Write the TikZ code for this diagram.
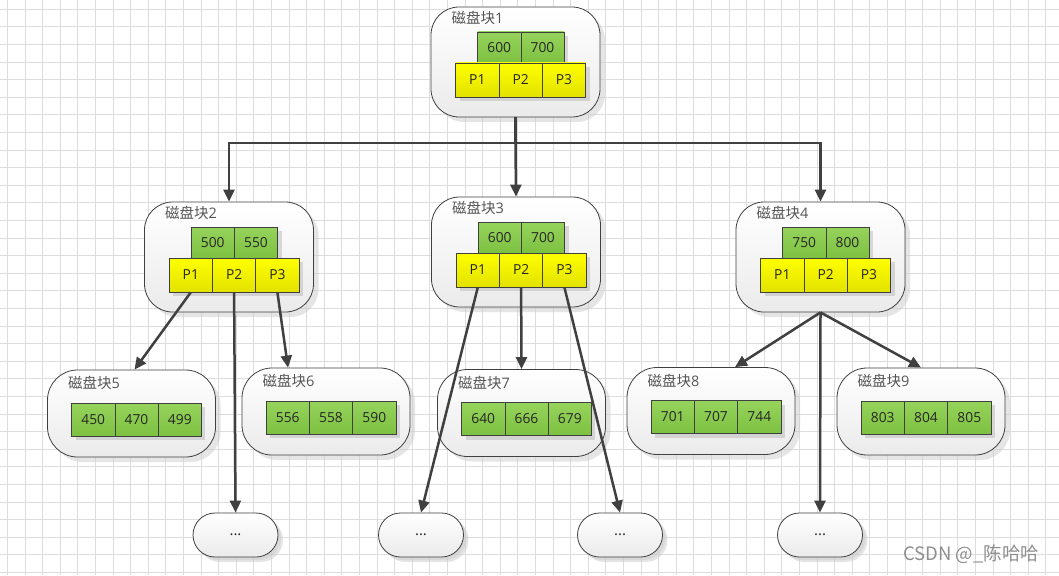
\documentclass[tikz,border=0pt]{standalone}
\usepackage{fontspec}
\setmainfont{Open Sans}
\newfontfamily\cjk{Noto Sans CJK SC}
\usetikzlibrary{arrows.meta,shadows,calc}
\definecolor{gridc}{HTML}{DDDDDD}
\definecolor{linec}{HTML}{404040}
\definecolor{gtop}{HTML}{96D35C}
\definecolor{gbot}{HTML}{7DC141}
\definecolor{ytop}{HTML}{FFFF00}
\definecolor{ybot}{HTML}{E2E200}
\definecolor{lblc}{HTML}{555555}
\definecolor{wmc}{HTML}{8E8E8E}
\tikzset{
  gridline/.style={draw=gridc, line width=0.9pt},
  blk/.style={draw=linec, line width=0.8pt, rounded corners=28pt, top color=white, bottom color=black!8,
    minimum width=169pt, minimum height=110pt, inner sep=0pt,
    drop shadow={shadow xshift=5pt, shadow yshift=-5pt, fill=black!20, opacity=0.5}},
  leafblk/.style={blk, minimum width=168pt, minimum height=87pt, rounded corners=30pt},
  dotbox/.style={blk, minimum width=85pt, minimum height=44pt, rounded corners=22pt,
    font=\fontsize{15}{15}\selectfont, text=black!85,
    drop shadow={shadow xshift=3pt, shadow yshift=-3pt, fill=black!20, opacity=0.5}},
  cellbase/.style={draw=linec, line width=0.6pt, inner sep=0pt, minimum width=43.3pt,
    font=\fontsize{13.8}{13.8}\selectfont, text=black!85,
    drop shadow={shadow xshift=4pt, shadow yshift=-4pt, fill=black!30, opacity=0.45}},
  gcell/.style={cellbase, top color=gtop, bottom color=gbot, minimum height=31pt},
  lgcell/.style={cellbase, top color=gtop, bottom color=gbot, minimum height=33pt},
  ycell/.style={cellbase, top color=ytop, bottom color=ybot, minimum height=34pt},
  lbl/.style={anchor=west, inner sep=0pt, text=lblc, font=\fontsize{14.5}{14.5}\selectfont},
  arr/.style={draw=linec, line width=2.5pt, -{Triangle[length=12pt, width=11pt]}},
  plain/.style={draw=linec, line width=2.5pt},
  wm/.style={anchor=west, inner sep=0pt, text=wmc, font=\cjk\fontsize{18.5}{18.5}\selectfont},
}
\newcommand\diskinner[6]{%
  \node[blk] (#1) at (#2,#3) {};
  \node[lbl] (#1t) at ($(#1.center)+(-64,-44)$) {{\cjk 磁盘块}#4};
  \node[gcell] (#1g1) at ($(#1.center)+(-16.3,-14.5)$) {#5};
  \node[gcell] (#1g2) at ($(#1.center)+(27.0,-14.5)$) {#6};
  \node[ycell] (#1p1) at ($(#1.center)+(-38.2,18)$) {P1};
  \node[ycell] (#1p2) at ($(#1.center)+(5.1,18)$) {P2};
  \node[ycell] (#1p3) at ($(#1.center)+(48.4,18)$) {P3};
}
\newcommand\diskleaf[7]{%
  \node[leafblk] (#1) at (#2,#3) {};
  \node[lbl] (#1t) at ($(#1.center)+(-63.5,-30.5)$) {{\cjk 磁盘块}#4};
  \node[lgcell] (#1c1) at ($(#1.center)+(-38.3,6)$) {#5};
  \node[lgcell] (#1c2) at ($(#1.center)+(5.0,6)$) {#6};
  \node[lgcell] (#1c3) at ($(#1.center)+(48.3,6)$) {#7};
}
\begin{document}
\begin{tikzpicture}[x=1pt,y=-1pt]
\useasboundingbox (0,0) rectangle (1059,575);
\fill[white] (0,0) rectangle (1059,575);
\foreach \i in {0,...,59} \draw[gridline] ({7.5+17.6*\i},0) -- ({7.5+17.6*\i},575);
\foreach \j in {0,...,32} \draw[gridline] (0,{9.3+17.6*\j}) -- (1059,{9.3+17.6*\j});

\diskinner{b1}{515.5}{62}{1}{600}{700}
\diskinner{b2}{229}{257}{2}{500}{550}
\diskinner{b3}{516}{252}{3}{600}{700}
\diskinner{b4}{820.5}{257}{4}{750}{800}

\diskleaf{b5}{131.5}{413.5}{5}{450}{470}{499}
\diskleaf{b6}{326}{411.5}{6}{556}{558}{590}
\diskleaf{b7}{521.5}{413}{7}{640}{666}{679}
\diskleaf{b8}{711}{411}{8}{701}{707}{744}
\diskleaf{b9}{921}{411.5}{9}{803}{804}{805}

\node[dotbox] (e1) at (235.5,535) {...};
\node[dotbox] (e2) at (421,535) {...};
\node[dotbox] (e3) at (620,535) {...};
\node[dotbox] (e4) at (820,535) {...};

\coordinate (j) at (515.5,143);
\draw[plain] (b1.south) -- (j);
\draw[arr] (j) -| (b2.north);
\draw[arr] (j) -| (b4.north);
\draw[arr] (j) -- (b3.north);

\draw[arr] (b2p1.south) -- ([xshift=3pt]b5.north);
\draw[arr] (b2p2.south) -- (e1.north);
\draw[arr] (b2p3.south) -- ([xshift=-38pt]b6.north);

\draw[arr] (b3p1.south) -- (e2.north);
\draw[arr] (b3p2.south) -- (b7.north);
\draw[arr] (b3p3.south) -- (e3.north);

\draw[arr] (b4.south) -- ([xshift=24pt]b8.north);
\draw[arr] (b4.south) -- (e4.north);
\draw[arr] (b4.south) -- (b9.north);

\node[wm] (wmark) at (903,554) {CSDN @\_陈哈哈};
\end{tikzpicture}
\end{document}
